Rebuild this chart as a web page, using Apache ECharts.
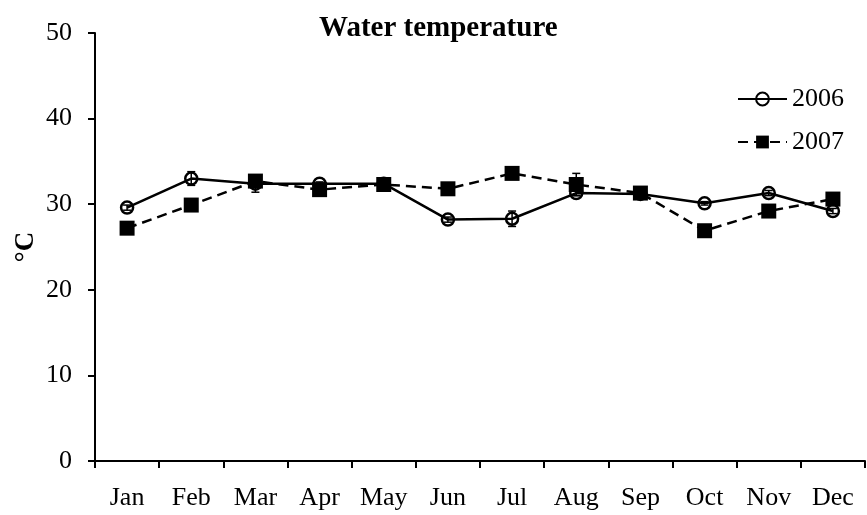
<!DOCTYPE html>
<html>
  <head>
    <meta charset="utf-8" />
    <title>Water temperature</title>
    <script src="https://cdn.jsdelivr.net/npm/echarts@6/dist/echarts.min.js"></script>
    <style>
      html, body { margin: 0; padding: 0; background: #fff; }
      #main { width: 867px; height: 515px; }
    </style>
  </head>
  <body>
    <div id="main"></div>
    <script type="text/javascript">
      var months = ['Jan', 'Feb', 'Mar', 'Apr', 'May', 'Jun', 'Jul', 'Aug', 'Sep', 'Oct', 'Nov', 'Dec'];
      var temp2006 = [29.6, 33.0, 32.4, 32.4, 32.4, 28.2, 28.3, 31.3, 31.2, 30.1, 31.3, 29.2];
      var temp2007 = [27.2, 29.9, 32.7, 31.7, 32.3, 31.8, 33.6, 32.3, 31.3, 26.9, 29.2, 30.6];
      // error bar half-widths (mostly hidden under the markers)
      var err2006 = [0.3, 0.8, 1.0, 0.2, 0.3, 0.3, 0.9, 0.3, 0.3, 0.2, 0.3, 0.3];
      var err2007 = [0.3, 0.3, 0.4, 0.3, 0.4, 0.3, 0.4, 1.3, 0.4, 0.3, 0.3, 0.4];
      var yTicks = [0, 10, 20, 30, 40, 50];

      var serif = 'Liberation Serif';

      function errData(vals, errs) {
        var out = [];
        for (var i = 0; i < vals.length; i++) {
          out.push([i, vals[i] - errs[i], vals[i] + errs[i]]);
        }
        return out;
      }

      function renderErr(params, api) {
        var lo = api.coord([api.value(0), api.value(1)]);
        var hi = api.coord([api.value(0), api.value(2)]);
        var cap = 4;
        var st = { stroke: '#000', lineWidth: 1.5 };
        return {
          type: 'group',
          children: [
            { type: 'line', shape: { x1: lo[0], y1: lo[1], x2: hi[0], y2: hi[1] }, style: st },
            { type: 'line', shape: { x1: lo[0] - cap, y1: lo[1], x2: lo[0] + cap, y2: lo[1] }, style: st },
            { type: 'line', shape: { x1: hi[0] - cap, y1: hi[1], x2: hi[0] + cap, y2: hi[1] }, style: st }
          ]
        };
      }

      var myChart = echarts.init(document.getElementById('main'));

      var option = {
        animation: false,
        title: {
          text: 'Water temperature',
          left: 314,
          top: 9,
          textStyle: { fontFamily: serif, fontSize: 29, fontWeight: 'bold', color: '#000' }
        },
        legend: {
          data: ['2006', '2007'],
          orient: 'vertical',
          left: 732,
          top: 81,
          itemWidth: 49,
          itemHeight: 16,
          itemGap: 17,
          textStyle: { fontFamily: serif, fontSize: 26, color: '#000' }
        },
        grid: { left: 95, right: 2, top: 33, bottom: 54, outerBoundsMode: 'none' },
        xAxis: {
          type: 'category',
          data: months,
          boundaryGap: true,
          axisLine: { lineStyle: { color: '#000', width: 2 } },
          axisTick: { show: true, length: 7, lineStyle: { color: '#000', width: 2 } },
          axisLabel: { margin: 24, fontFamily: serif, fontSize: 26, color: '#000' },
          splitLine: { show: false }
        },
        yAxis: {
          type: 'value',
          min: yTicks[0],
          max: yTicks[yTicks.length - 1],
          interval: 10,
          name: '°C',
          nameLocation: 'middle',
          nameRotate: 90,
          nameGap: 55,
          nameMoveOverlap: false,
          nameTextStyle: { fontFamily: serif, fontSize: 27, fontWeight: 'bold', color: '#000' },
          axisLine: { show: true, lineStyle: { color: '#000', width: 2 } },
          axisTick: { show: true, length: 7, lineStyle: { color: '#000', width: 2 } },
          axisLabel: { margin: 23, fontFamily: serif, fontSize: 26, color: '#000' },
          splitLine: { show: false }
        },
        series: [
          {
            name: '2007',
            type: 'line',
            data: temp2007,
            symbol: 'rect',
            symbolSize: 15,
            itemStyle: { color: '#000' },
            lineStyle: { color: '#000', width: 2.5, type: [10, 6] },
            z: 2
          },
          {
            name: '2006',
            type: 'line',
            data: temp2006,
            symbol: 'circle',
            symbolSize: 12,
            itemStyle: { color: 'rgba(255,255,255,0)', borderColor: '#000', borderWidth: 2.5 },
            lineStyle: { color: '#000', width: 2.5 },
            z: 3
          },
          {
            name: 'err2006',
            type: 'custom',
            renderItem: renderErr,
            data: errData(temp2006, err2006),
            z: 4
          },
          {
            name: 'err2007',
            type: 'custom',
            renderItem: renderErr,
            data: errData(temp2007, err2007),
            z: 4
          }
        ]
      };

      myChart.setOption(option);
    </script>
  </body>
</html>
